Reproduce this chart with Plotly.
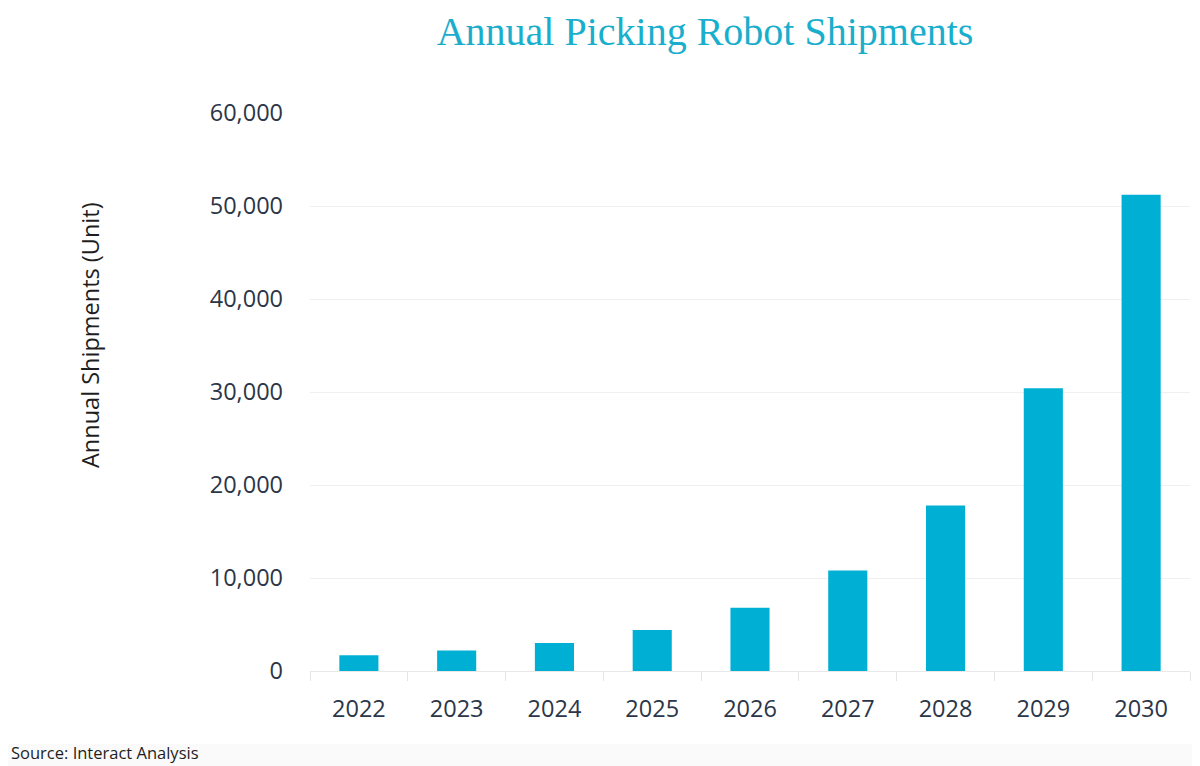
import plotly.graph_objects as go

years = ["2022", "2023", "2024", "2025", "2026", "2027", "2028", "2029", "2030"]
shipments = [1700, 2200, 3000, 4400, 6800, 10800, 17800, 30400, 51200]
y_ticks = [0, 10000, 20000, 30000, 40000, 50000, 60000]
y_tick_labels = ["0", "10,000", "20,000", "30,000", "40,000", "50,000", "60,000"]

W, H = 1200, 766
L, R, T, B = 302, 18, 105, 103
PW, PH = W - L - R, H - T - B

fig = go.Figure()
fig.add_trace(go.Bar(
    x=years, y=shipments,
    marker=dict(color="#00B0D4", line=dict(width=0)),
    width=0.4,
))

fig.update_layout(
    width=W, height=H,
    paper_bgcolor="white", plot_bgcolor="white",
    margin=dict(l=L, r=R, t=T, b=B),
    showlegend=False,
    title=dict(
        text="Annual Picking Robot Shipments",
        x=697 / W, xanchor="center", y=1 - 23 / H, yanchor="middle",
        font=dict(family="Liberation Serif, DejaVu Serif, serif", size=40, color="#1AAECD"),
    ),
    font=dict(family="Open Sans, Noto Sans, sans-serif", color="#2B3648"),
)

# faint grey band at the bottom
fig.add_shape(
    type="rect", xref="paper", yref="paper",
    x0=-L / PW, x1=1 + R / PW, y0=-(B + 5) / PH, y1=-(B - 30) / PH,
    fillcolor="#FAFAFA", line=dict(width=0), layer="below",
)

fig.update_xaxes(
    type="category",
    showgrid=False,
    showline=True, linecolor="#E8E8E8", linewidth=1,
    ticks="outside", tickson="boundaries", ticklen=9, tickcolor="#E4E4E4",
    tickfont=dict(size=23.5, color="#2B3648"),
    ticklabelstandoff=17,
)
fig.update_yaxes(
    range=[0, 60000],
    tickvals=y_ticks, ticktext=y_tick_labels,
    showgrid=True, gridcolor="#F0F0F0", gridwidth=1,
    zeroline=False,
    tickfont=dict(size=23.5, color="#2B3648"),
    ticklabelstandoff=26,
)

fig.add_annotation(
    text="Annual Shipments (Unit)", textangle=-90,
    xref="paper", yref="paper", x=(82 - L) / PW, y=(663 - 327) / PH,
    xanchor="center", yanchor="middle", showarrow=False,
    font=dict(family="Open Sans, Noto Sans, sans-serif", size=23.5, color="#1E1E1E"),
)

fig.add_annotation(
    text="Source: Interact Analysis",
    xref="paper", yref="paper", x=(1 - L) / PW, y=(663 - 744) / PH,
    xanchor="left", yanchor="middle", showarrow=False,
    font=dict(family="Open Sans, Noto Sans, sans-serif", size=16.5, color="#1E1E1E"),
)

fig.write_html("out.html")
